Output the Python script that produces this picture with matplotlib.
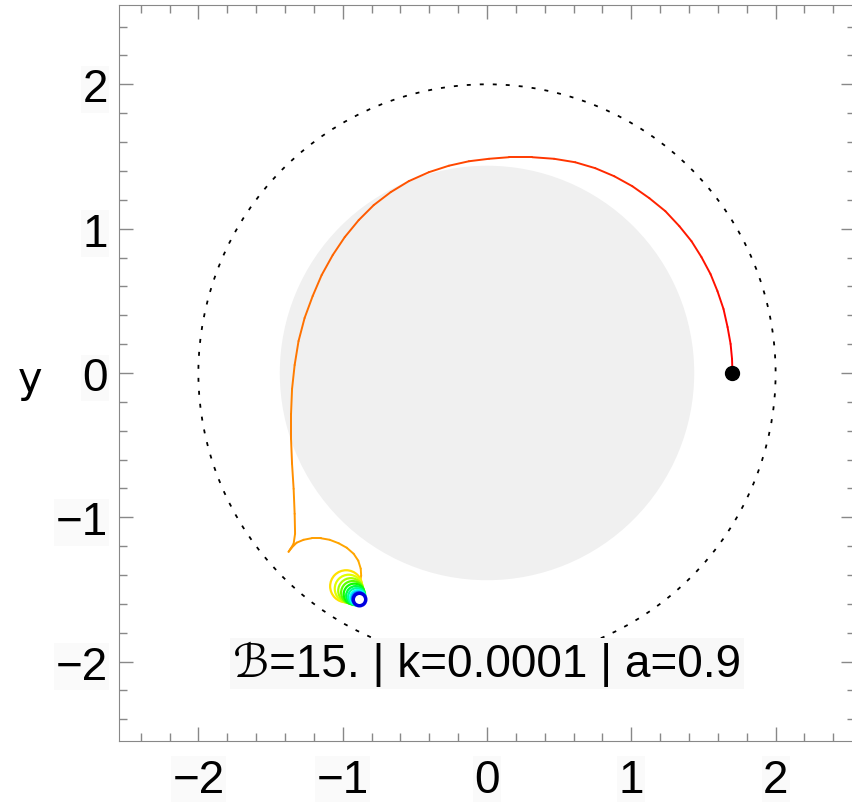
import numpy as np
import matplotlib
matplotlib.use("Agg")
from matplotlib import pyplot as plt
from matplotlib.collections import LineCollection
from matplotlib.patches import Circle
from matplotlib.ticker import MultipleLocator

# trajectory (x, y)
path_x = [1.701, 1.698, 1.688, 1.667, 1.639, 1.597, 1.549, 1.486, 1.417, 1.333,
          1.236, 1.125, 1.007, 0.882, 0.750, 0.611, 0.465, 0.313, 0.153, 0.014,
          -0.125, -0.264, -0.403, -0.542, -0.667, -0.785, -0.889, -0.986, -1.069, -1.146,
          -1.208, -1.264, -1.306, -1.333, -1.351, -1.358, -1.358, -1.351, -1.340, -1.333,
          -1.330, -1.340, -1.361, -1.375, -1.354, -1.319, -1.271, -1.215, -1.153, -1.090,
          -1.028, -0.972, -0.924, -0.892, -0.875, -0.872, -0.878]
path_y = [0.0, 0.097, 0.201, 0.318, 0.443, 0.567, 0.685, 0.803, 0.913, 1.017,
          1.121, 1.211, 1.294, 1.363, 1.419, 1.460, 1.484, 1.495, 1.495, 1.484,
          1.467, 1.436, 1.391, 1.329, 1.253, 1.163, 1.059, 0.941, 0.817, 0.678,
          0.533, 0.381, 0.221, 0.055, -0.111, -0.284, -0.457, -0.630, -0.803, -0.976,
          -1.114, -1.183, -1.218, -1.239, -1.211, -1.176, -1.156, -1.145, -1.145, -1.156,
          -1.180, -1.211, -1.253, -1.301, -1.356, -1.405, -1.439]

# small loops near the end: centre, radius, hue
loop_x = [-0.976, -0.958, -0.944, -0.931, -0.920, -0.910, -0.903, -0.896, -0.892, -0.889, -0.889]
loop_y = [-1.478, -1.495, -1.509, -1.522, -1.533, -1.543, -1.550, -1.557, -1.561, -1.564, -1.564]
loop_r = [0.111, 0.097, 0.087, 0.080, 0.073, 0.066, 0.059, 0.052, 0.045, 0.038, 0.031]
loop_hue = [0.15, 0.19, 0.23, 0.28, 0.33, 0.38, 0.44, 0.50, 0.58, 0.64, 0.67]

start = (1.701, 0.0)
end = (-0.889, -1.564)
horizon_r = 1.436
ergo_r = 2.0
label = "ℬ=15. | k=0.0001 | a=0.9"

fig = plt.figure(figsize=(8.52, 8.03), dpi=100)
ax = fig.add_axes([0.1397, 0.0760, 0.8638, 0.9166])

ax.add_patch(Circle((0, 0), horizon_r, facecolor='#f0f0f0', edgecolor='none', zorder=1))
ax.add_patch(Circle((0, 0), ergo_r, facecolor='none', edgecolor='black',
                    linewidth=1.3, linestyle=(0, (2.2, 5)), zorder=2))

pts = np.column_stack([path_x, path_y])
segs = np.stack([pts[:-1], pts[1:]], axis=1)
seglen = np.hypot(*(pts[1:] - pts[:-1]).T)
frac = np.cumsum(seglen) / seglen.sum()
lc = LineCollection(segs, colors=plt.cm.hsv(frac * 0.115), linewidth=1.4,
                    capstyle='round', joinstyle='round', zorder=3)
ax.add_collection(lc)

for cx, cy, r, h in zip(loop_x, loop_y, loop_r, loop_hue):
    ax.add_patch(Circle((cx, cy), r, facecolor='none',
                        edgecolor=plt.cm.hsv(h), linewidth=1.6, zorder=3))

ax.plot(*start, 'o', color='black', markersize=10, zorder=5)
ax.plot(*end, 'o', markerfacecolor='white', markeredgecolor='#0000e0',
        markersize=9, markeredgewidth=2.5, zorder=5)

ax.text(0, -2.01, label, ha='center', va='center', fontsize=33,
        family=['Liberation Sans', 'DejaVu Sans'], zorder=6,
        bbox=dict(facecolor='#f8f8f8', edgecolor='none', pad=2))

ax.set_xlim(-2.55, 2.55)
ax.set_ylim(-2.55, 2.55)
ax.set_xticks([-2, -1, 0, 1, 2])
ax.set_yticks([-2, -1, 0, 1, 2])
ax.xaxis.set_minor_locator(MultipleLocator(0.2))
ax.yaxis.set_minor_locator(MultipleLocator(0.2))
ax.tick_params(which='both', direction='in', top=True, right=True, color='#888888', width=1)
ax.tick_params(which='major', length=10)
ax.tick_params(which='minor', length=6)
ax.tick_params(axis='x', pad=12)
ax.tick_params(axis='y', pad=8)
for t in ax.get_xticklabels() + ax.get_yticklabels():
    t.set_fontfamily('Liberation Sans')
    t.set_fontsize(33)
    t.set_bbox(dict(facecolor='#fafafa', edgecolor='none', pad=1))
for s in ax.spines.values():
    s.set_color('#888888')

ax.set_ylabel('y', rotation=0, fontsize=30, family='DejaVu Sans', ha='center', va='center')
ax.yaxis.set_label_coords(-0.121, 0.492)

fig.savefig('out.png', dpi=100)
